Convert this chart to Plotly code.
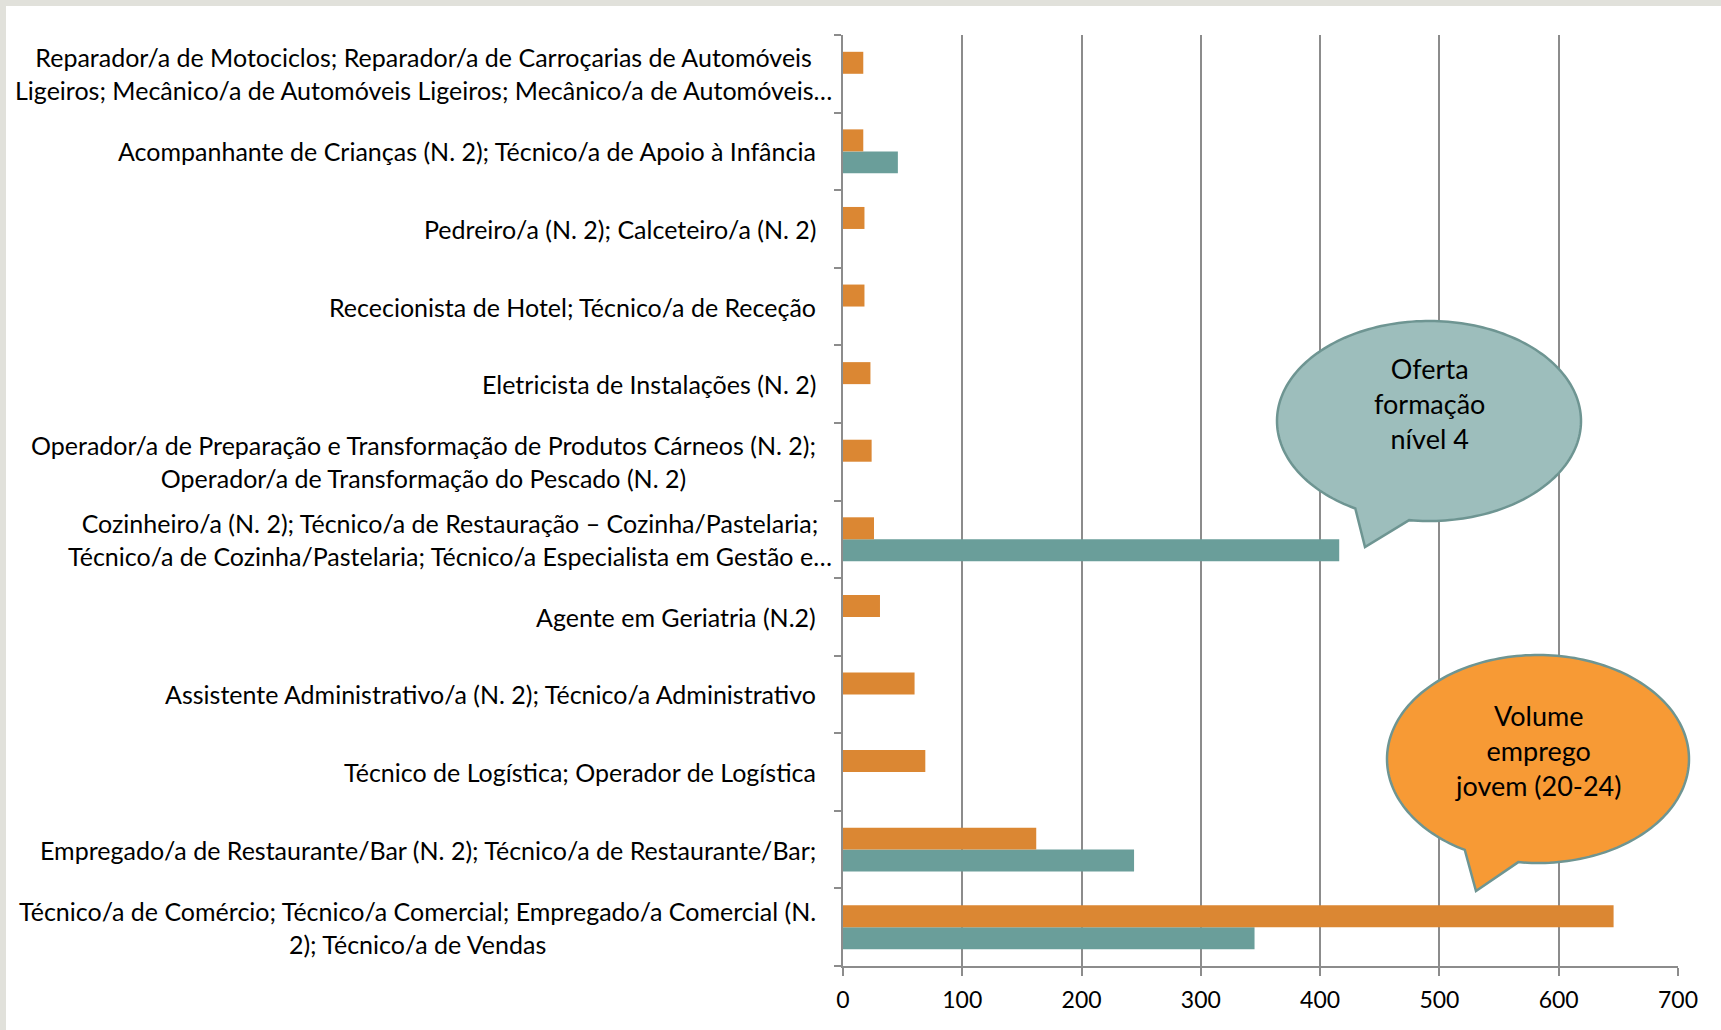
import numpy as np
import plotly.graph_objects as go

# Categories listed from top to bottom as they appear in the chart
categories = [
    "Reparador/a de Motociclos; Reparador/a de Carroçarias de Automóveis<br>Ligeiros; Mecânico/a de Automóveis Ligeiros; Mecânico/a de Automóveis…",
    "Acompanhante de Crianças (N. 2); Técnico/a de Apoio à Infância",
    "Pedreiro/a (N. 2); Calceteiro/a (N. 2)",
    "Rececionista de Hotel; Técnico/a de Receção",
    "Eletricista de Instalações (N. 2)",
    "Operador/a de Preparação e Transformação de Produtos Cárneos (N. 2);<br>Operador/a de Transformação do Pescado (N. 2)",
    "Cozinheiro/a (N. 2); Técnico/a de Restauração – Cozinha/Pastelaria;<br>Técnico/a de Cozinha/Pastelaria; Técnico/a Especialista em Gestão e…",
    "Agente em Geriatria (N.2)",
    "Assistente Administrativo/a (N. 2); Técnico/a Administrativo",
    "Técnico de Logística; Operador de Logística",
    "Empregado/a de Restaurante/Bar (N. 2); Técnico/a de Restaurante/Bar;",
    "Técnico/a de Comércio; Técnico/a Comercial; Empregado/a Comercial (N.<br>2); Técnico/a de Vendas",
]
volume_emprego_jovem = [17, 17, 18, 18, 23, 24, 26, 31, 60, 69, 162, 646]
oferta_formacao_n4 = [0, 46, 0, 0, 0, 0, 416, 0, 0, 0, 244, 345]
x_ticks = [0, 100, 200, 300, 400, 500, 600, 700]

ORANGE = "#DB8733"
TEAL = "#6A9E9A"
GRID = "#8C8C8C"
FONT = "Lato"

# plot area in pixels
W, H = 1721, 1030
PX0, PX1, PY0, PY1 = 843, 1678, 35, 966

def px2paper(px, py):
    return (px - PX0) / (PX1 - PX0), (PY1 - py) / (PY1 - PY0)

ids = list(range(len(categories)))
# reverse so the first category is at the top
ypos = [len(categories) - 1 - i for i in ids]

fig = go.Figure()
fig.add_trace(go.Bar(y=ypos, x=oferta_formacao_n4, orientation="h",
                     name="Oferta formação nível 4", marker_color=TEAL,
                     marker_line_width=0))
fig.add_trace(go.Bar(y=ypos, x=volume_emprego_jovem, orientation="h",
                     name="Volume emprego jovem (20-24)", marker_color=ORANGE,
                     marker_line_width=0))

annotations = []
for i, lab in enumerate(categories):
    shift = 16 if lab.endswith("…") else 0
    annotations.append(dict(
        x=(818 - PX0) / (PX1 - PX0), xref="paper", y=ypos[i], yref="y",
        text=lab, showarrow=False, xanchor="right", yanchor="middle",
        align="center", xshift=shift,
        font=dict(family=FONT, size=25, color="#000000")))

shapes = []
# gray frame strips (top and left)
shapes.append(dict(type="rect", xref="paper", yref="paper",
                   x0=px2paper(0, 0)[0], x1=px2paper(W, 0)[0],
                   y0=px2paper(0, 0)[1], y1=px2paper(0, 6)[1],
                   fillcolor="#E1E1DB", line_width=0, layer="below"))
shapes.append(dict(type="rect", xref="paper", yref="paper",
                   x0=px2paper(0, 0)[0], x1=px2paper(6, 0)[0],
                   y0=px2paper(0, 0)[1], y1=px2paper(0, H)[1],
                   fillcolor="#E1E1DB", line_width=0, layer="below"))

def bubble(cx, cy, rx, ry, a_start, a_end, tip):
    angs = np.radians(np.linspace(a_start, a_end + 360, 200))
    pts = [(cx + rx * np.cos(a), cy + ry * np.sin(a)) for a in angs]
    pts.append(tip)
    pp = [px2paper(x, y) for x, y in pts]
    return "M " + " L ".join(f"{x:.5f},{y:.5f}" for x, y in pp) + " Z"

callouts = [
    dict(cx=1429, cy=421, rx=152, ry=100, tip=(1365, 547), fill="#9DBEBC",
         text="Oferta<br>formação<br>nível 4", ty=403),
    dict(cx=1538, cy=759, rx=151, ry=104, tip=(1476, 891), fill="#F79A35",
         text="Volume<br>emprego<br>jovem (20-24)", ty=750),
]
for c in callouts:
    shapes.append(dict(type="path", xref="paper", yref="paper",
                       path=bubble(c["cx"], c["cy"], c["rx"], c["ry"], 119, 97.5, c["tip"]),
                       fillcolor=c["fill"], line=dict(color="#6E9592", width=2.5),
                       layer="above"))
    tx, ty = px2paper(c["cx"], c["ty"])
    annotations.append(dict(x=tx, y=ty, xref="paper", yref="paper", text=c["text"],
                            showarrow=False, xanchor="center", yanchor="middle",
                            align="center",
                            font=dict(family=FONT, size=27, color="#000000")))

fig.update_layout(
    width=W, height=H,
    margin=dict(l=PX0, r=W - PX1, t=PY0, b=H - PY1, pad=0),
    paper_bgcolor="white", plot_bgcolor="white",
    barmode="group", bargap=0.433, bargroupgap=0,
    showlegend=False,
    annotations=annotations, shapes=shapes,
    xaxis=dict(range=[0, 700], tickvals=x_ticks, ticktext=[str(v) for v in x_ticks],
               showgrid=True, gridcolor=GRID, gridwidth=2,
               showline=True, linecolor=GRID, linewidth=2,
               ticks="outside", ticklen=8, tickwidth=2, tickcolor=GRID,
               ticklabelstandoff=4,
               zeroline=False, fixedrange=True,
               tickfont=dict(family=FONT, size=23, color="#000000")),
    yaxis=dict(type="linear", range=[-0.5, len(categories) - 0.5],
               tickvals=[k - 0.5 for k in range(len(categories) + 1)],
               showticklabels=False, showgrid=False, zeroline=False,
               showline=True, linecolor=GRID, linewidth=2,
               ticks="outside", ticklen=7, tickwidth=2, tickcolor=GRID,
               fixedrange=True),
)

fig.write_html("out.html", config={"displayModeBar": False},
               post_script="document.body.style.margin='0px';document.body.style.overflow='hidden';")
